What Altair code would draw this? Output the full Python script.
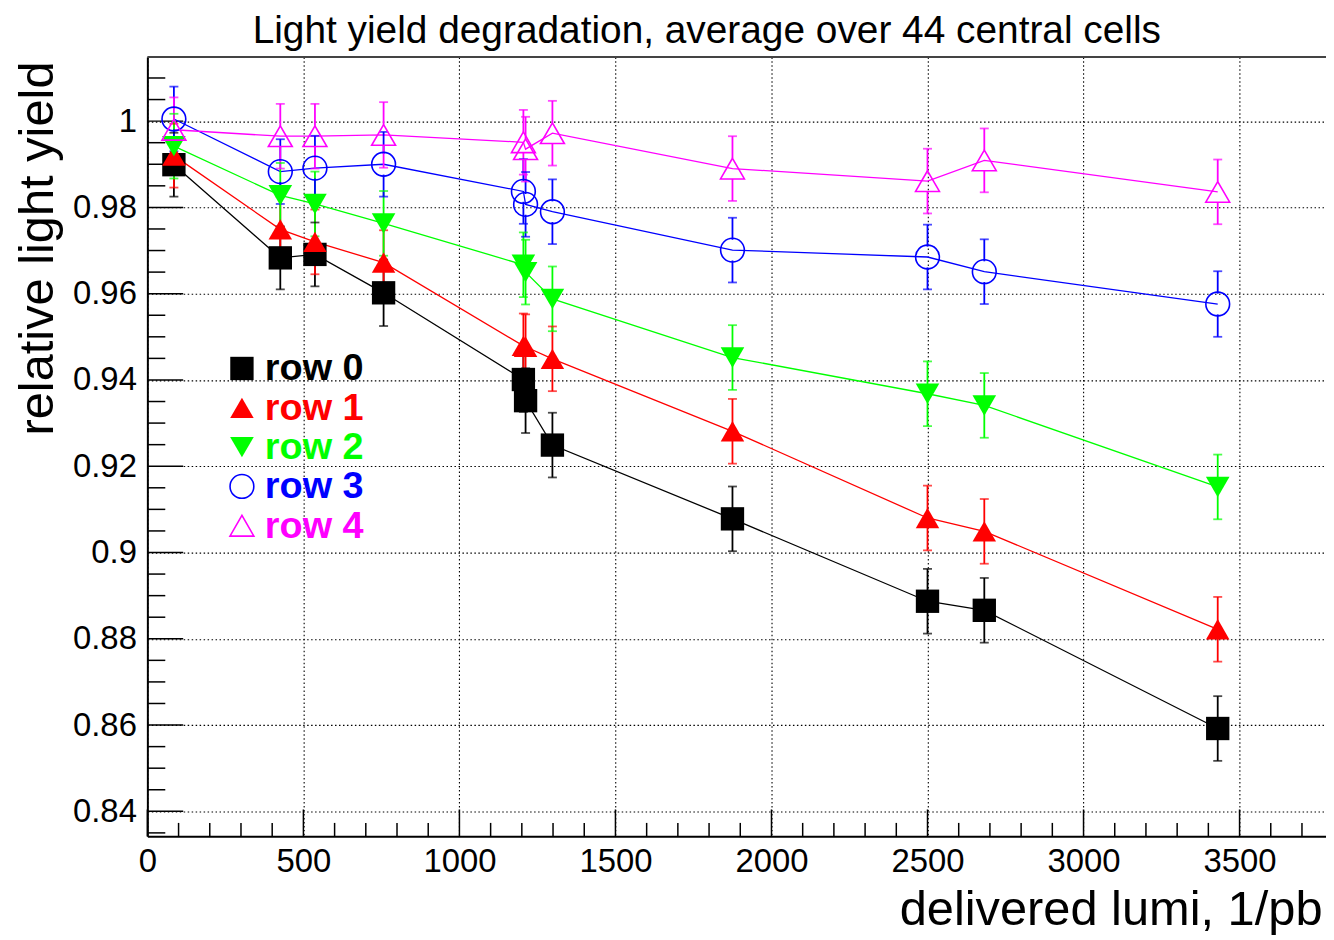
import altair as alt
import pandas as pd

# ---------------- data ----------------
rows = ["row 0", "row 1", "row 2", "row 3", "row 4"]
colors = ["#000000", "#ff0000", "#00ff00", "#0000ff", "#ff00ff"]
shapes = ["square", "triangle-up", "triangle-down", "circle", "triangle-up"]
filled_rows = ["row 0", "row 1", "row 2"]
open_rows = ["row 3", "row 4"]

lumi = [85, 426, 537, 757, 1205, 1212, 1298, 1875, 2500, 2682, 3430]
row0 = [0.9899, 0.9683, 0.9691, 0.9602, 0.9401, 0.9352, 0.9249, 0.9078, 0.8887, 0.8866, 0.8592]
row1 = [0.9920, 0.9749, 0.9720, 0.9672, 0.9479, 0.9477, 0.9449, 0.9281, 0.9080, 0.9049, 0.8822]
row2 = [0.9942, 0.9828, 0.9808, 0.9763, 0.9667, 0.9650, 0.9588, 0.9452, 0.9368, 0.9341, 0.9152]
row3 = [1.0005, 0.9883, 0.9891, 0.9900, 0.9837, 0.9807, 0.9790, 0.9701, 0.9685, 0.9651, 0.9576]
row4 = [0.9980, 0.9965, 0.9965, 0.9968, 0.9951, 0.9935, 0.9972, 0.9890, 0.9861, 0.9909, 0.9836]
err0 = [0.0074, 0.0073, 0.0074, 0.0077, 0.0075, 0.0075, 0.0075, 0.0075, 0.0075, 0.0075, 0.0075]
err1 = [0.0074, 0.0075, 0.0075, 0.0075, 0.0075, 0.0075, 0.0075, 0.0075, 0.0075, 0.0075, 0.0075]
err2 = [0.0075, 0.0075, 0.0075, 0.0075, 0.0075, 0.0075, 0.0075, 0.0075, 0.0075, 0.0075, 0.0075]
err3 = [0.0075, 0.0075, 0.0075, 0.0075, 0.0075, 0.0075, 0.0075, 0.0075, 0.0075, 0.0075, 0.0076]
err4 = [0.0075, 0.0075, 0.0075, 0.0076, 0.0075, 0.0075, 0.0075, 0.0075, 0.0075, 0.0074, 0.0075]

x_major = [0, 500, 1000, 1500, 2000, 2500, 3000, 3500]
x_minor = [v for v in range(100, 3800, 100) if v % 500 != 0]
y_major = [0.84, 0.86, 0.88, 0.9, 0.92, 0.94, 0.96, 0.98, 1.0]
y_minor_k = [k for k in range(167, 203) if k % 4 != 0]   # in units of 0.005
y_minor = [round(k * 0.005, 3) for k in y_minor_k]

title = "Light yield degradation, average over 44 central cells"
x_title = "delivered lumi, 1/pb"
y_title = "relative light yield"

# ---------------- layout / style ----------------
W, H = 1184, 783
FONT = "Liberation Sans"
GAP = 0.0024  # open-marker half size in data units (error bar gap)

series = [row0, row1, row2, row3, row4]
errs = [err0, err1, err2, err3, err4]
recs, segs = [], []
for r, vals, ee in zip(rows, series, errs):
    for i, (x, v, e) in enumerate(zip(lumi, vals, ee)):
        recs.append({"row": r, "idx": i, "lumi": x, "ly": v, "lo": v - e, "hi": v + e})
        if r in open_rows:
            segs.append({"row": r, "lumi": x, "ly": v - e, "ly2": v - GAP})
            segs.append({"row": r, "lumi": x, "ly": v + GAP, "ly2": v + e})
        else:
            segs.append({"row": r, "lumi": x, "ly": v - e, "ly2": v + e})
df = pd.DataFrame(recs)
seg_df = pd.DataFrame(segs)
caps_df = pd.concat([
    df[["row", "lumi", "lo"]].rename(columns={"lo": "ly"}),
    df[["row", "lumi", "hi"]].rename(columns={"hi": "ly"}),
])

xscale = alt.Scale(domain=[0, 3777], nice=False, zero=False)
yscale = alt.Scale(domain=[0.8342, 1.01489], nice=False, zero=False)
xaxis = alt.Axis(
    values=x_major, format="d", title=x_title, grid=True, ticks=False,
    labelFontSize=33, labelFont=FONT, labelColor="black", labelPadding=9,
    domainColor="black", domainWidth=2,
    gridColor="black", gridDash=[1.5, 2.5], gridWidth=1.1, gridOpacity=1,
    titleFont=FONT, titleFontSize=49, titleFontWeight="normal", titleColor="black",
    titleX=W - 4, titleY=89, titleAlign="right", titleBaseline="alphabetic",
    titleAnchor="end", labelFlush=False, labelOverlap=False,
)
yaxis = alt.Axis(
    values=y_major, format="~g", title=y_title, grid=True, ticks=False,
    labelFontSize=33, labelFont=FONT, labelColor="black", labelPadding=11,
    domainColor="black", domainWidth=2,
    gridColor="black", gridDash=[1.5, 2.5], gridWidth=1.1, gridOpacity=1,
    titleFont=FONT, titleFontSize=49, titleFontWeight="normal", titleColor="black",
    titleX=-95, titleY=192, titleAngle=270, titleAlign="center", titleBaseline="alphabetic",
    labelFlush=False, labelOverlap=False,
)


def X(f):
    return alt.X(f, type="quantitative", scale=xscale, axis=xaxis)


def Y(f):
    return alt.Y(f, type="quantitative", scale=yscale, axis=yaxis)


cscale = alt.Scale(domain=rows, range=colors)
sscale = alt.Scale(domain=rows, range=shapes)
zscale = alt.Scale(domain=rows, range=[550, 576, 576, 441, 576])
color = alt.Color("row:N", scale=cscale, legend=None)
shape = alt.Shape("row:N", scale=sscale, legend=None)
size = alt.Size("row:O", scale=zscale, legend=None)

# ticks drawn inward
xmaj = alt.Chart(pd.DataFrame({"lumi": x_major})).mark_rule(color="black", strokeWidth=1.5).encode(
    x=X("lumi"), y=alt.value(H), y2=alt.value(H - 27))
xmin = alt.Chart(pd.DataFrame({"lumi": x_minor})).mark_rule(color="black", strokeWidth=1.5).encode(
    x=X("lumi"), y=alt.value(H), y2=alt.value(H - 13.5))
ymaj = alt.Chart(pd.DataFrame({"ly": y_major})).mark_rule(color="black", strokeWidth=1.5).encode(
    y=Y("ly"), x=alt.value(0), x2=alt.value(36))
ymin = alt.Chart(pd.DataFrame({"ly": y_minor})).mark_rule(color="black", strokeWidth=1.5).encode(
    y=Y("ly"), x=alt.value(0), x2=alt.value(18))
topline = alt.Chart(pd.DataFrame({"lumi": [0]})).mark_rule(color="#444444", strokeWidth=2).encode(
    x=alt.value(0), x2=alt.value(W), y=alt.value(0))

lines = alt.Chart(df).mark_line(strokeWidth=1.3).encode(
    x=X("lumi"), y=Y("ly"), color=color, order=alt.Order("idx:Q"))
bars = alt.Chart(seg_df).mark_rule(strokeWidth=1.8).encode(
    x=X("lumi"), y=Y("ly"), y2="ly2", color=color)
caps = alt.Chart(caps_df).mark_tick(orient="horizontal", size=9, thickness=1.8).encode(
    x=X("lumi"), y=Y("ly"), color=color)
pts_f = alt.Chart(df).transform_filter(
    alt.FieldOneOfPredicate(field="row", oneOf=filled_rows)
).mark_point(filled=True, opacity=1).encode(
    x=X("lumi"), y=Y("ly"), color=color, shape=shape, size=size)
pts_o = alt.Chart(df).transform_filter(
    alt.FieldOneOfPredicate(field="row", oneOf=open_rows)
).mark_point(filled=False, opacity=1, strokeWidth=1.6).encode(
    x=X("lumi"), y=Y("ly"), color=color, shape=shape, size=size)

main = alt.layer(xmaj, xmin, ymaj, ymin, topline, lines, bars, caps, pts_f, pts_o)

# in-plot legend
leg_df = pd.DataFrame({"row": rows})
ly_leg = alt.Y("row:N", scale=alt.Scale(domain=rows, range=[313, 471], padding=0), axis=None)
leg_f = alt.Chart(leg_df).transform_filter(
    alt.FieldOneOfPredicate(field="row", oneOf=filled_rows)
).mark_point(filled=True, opacity=1).encode(
    x=alt.value(95), y=ly_leg, color=color, shape=shape, size=size)
leg_o = alt.Chart(leg_df).transform_filter(
    alt.FieldOneOfPredicate(field="row", oneOf=open_rows)
).mark_point(filled=False, opacity=1, strokeWidth=1.6).encode(
    x=alt.value(95), y=ly_leg, color=color, shape=shape, size=size)
leg_t = alt.Chart(leg_df).mark_text(
    align="left", baseline="middle", font=FONT, fontSize=38, fontWeight="bold", dy=1
).encode(x=alt.value(118), y=ly_leg, text="row:N", color=color)
legend = alt.layer(leg_f, leg_o, leg_t)

chart = alt.layer(main, legend).resolve_scale(y="independent").properties(
    width=W, height=H,
    title=alt.TitleParams(title, font=FONT, fontSize=39, fontWeight="normal", color="black",
                          anchor="middle", dx=-30, offset=5),
    autosize=alt.AutoSizeParams(type="none"),
    padding={"left": 140, "top": 47, "right": 0, "bottom": 100},
    background="white",
).configure_view(stroke=None)

chart.save("out.html", embed_options={"renderer": "svg", "actions": False})
